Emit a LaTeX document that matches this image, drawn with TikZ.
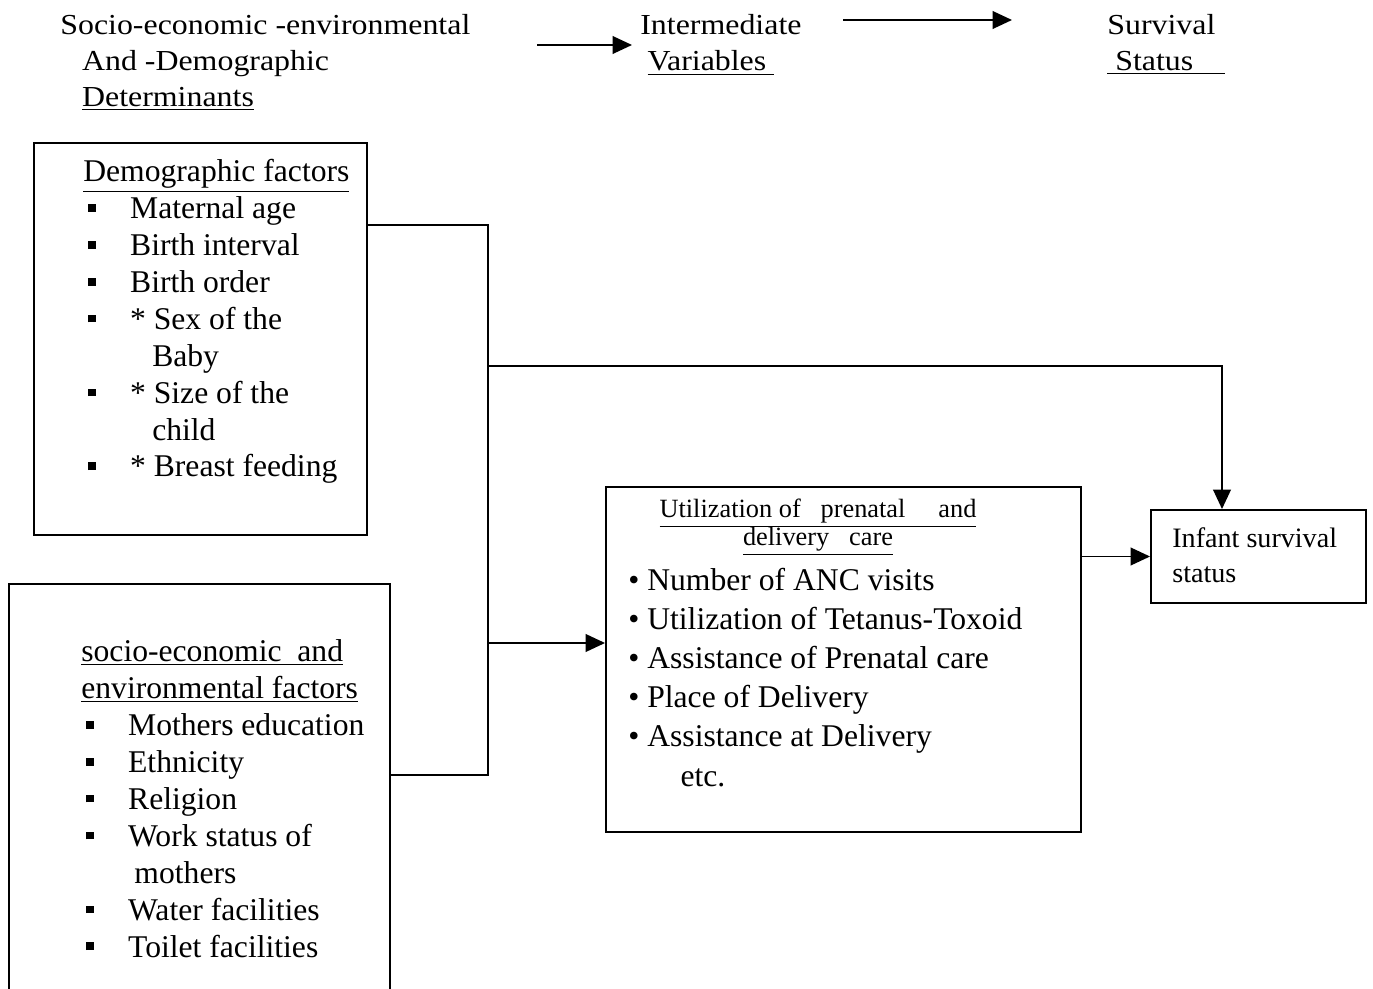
\documentclass[tikz,border=0pt]{standalone}
\usepackage{fontspec}
\setmainfont{Liberation Serif}
\newfontfamily\hdfont[FakeStretch=1.1]{Liberation Serif}
\usetikzlibrary{arrows.meta,fit}
\newcommand\sqb{\hspace*{0.16em}\rule[0.22em]{0.24em}{0.24em}\hspace*{1.08em}}

\begin{document}
\begin{tikzpicture}[x=0.02cm, y=-0.02cm,
    box/.style={draw, line width=1.1pt, inner sep=0pt},
    conn/.style={line width=1.1pt},
    arr/.style={conn, -{Triangle[length=11pt, width=10pt]}},
    txt/.style={inner sep=0pt, align=left, anchor=base west, font=\fontsize{18}{21}\selectfont},
    hd/.style={txt, font=\hdfont\fontsize{16.5}{20.5}\selectfont}]
    \useasboundingbox (0,0) rectangle (1373,989);
    % headings (placed by the baseline of their last line)
    \node[hd] (hdsoc) at (60,107) {Socio-economic -environmental\\\hspace*{0.75em}And -Demographic\\\hspace*{0.75em}\underline{Determinants}};
    \node[hd] (hdint) at (640,71) {Intermediate\\\hspace*{0.25em}\underline{Variables\ }};
    \node[hd] (hdsurv) at (1107,71) {Survival\\\underline{\ Status\ \ \ \ }};
    \coordinate (hdarrA) at (537,45);
    \coordinate (hdarrB) at (632,45);
    \coordinate (hdarrC) at (843,20);
    \coordinate (hdarrD) at (1012,20);
    \draw[arr] (hdarrA) -- (hdarrB);
    \draw[arr] (hdarrC) -- (hdarrD);
    % boxes
    \node[box, fit={(34,143) (367,535)}] (demo) {};
    \node[box, fit={(9,584) (390,996)}] (soc) {};
    \node[box, fit={(606,487) (1081,832)}] (util) {};
    \node[box, fit={(1151,510) (1366,603)}] (infant) {};
    % box texts
    \node[txt] (demotxt) at (83,477) {\underline{Demographic factors}\\
        \sqb Maternal age\\ \sqb Birth interval\\ \sqb Birth order\\
        \sqb * Sex of the\\ \hspace*{2.18em}Baby\\
        \sqb * Size of the\\ \hspace*{2.18em}child\\
        \sqb * Breast feeding};
    \node[txt] (soctxt) at (81,957) {\underline{socio-economic\ \ and}\\
        \underline{environmental factors}\\
        \sqb Mothers education\\ \sqb Ethnicity\\ \sqb Religion\\
        \sqb Work status of\\ \hspace*{1.68em}mothers\\
        \sqb Water facilities\\ \sqb Toilet facilities};
    \node[inner sep=0pt, align=center, anchor=base, font=\fontsize{15}{16}\selectfont] (utilhead) at (818,546)
        {\underline{Utilization of\ \ \ prenatal\ \ \ \ \ and}\\\underline{delivery\ \ \ care}};
    \node[txt, font=\fontsize{18}{22.2}\selectfont] (utillist) at (628,786) {• Number of ANC visits\\
        • Utilization of Tetanus-Toxoid\\ • Assistance of Prenatal care\\
        • Place of Delivery\\ • Assistance at Delivery\\ \hspace*{1.65em}etc.};
    \node[txt, font=\fontsize{16}{20}\selectfont] (inftxt) at (1172,583) {Infant survival\\status};
    % connectors
    \coordinate (bustop) at (488,225);
    \coordinate (busbot) at (488,775);
    \coordinate (busmid) at (488,366);
    \coordinate (busin) at (488,643);
    \coordinate (turn) at (1222,366);
    \draw[conn] (demo.east |- bustop) -- (bustop) -- (busbot) -- (soc.east |- busbot);
    \draw[arr] (busmid) -- (turn) -- (turn |- infant.north);
    \draw[arr] (busin) -- (util.west |- busin);
    \draw[arr] (util.east |- infant.west) -- (infant.west);
\end{tikzpicture}
\end{document}
